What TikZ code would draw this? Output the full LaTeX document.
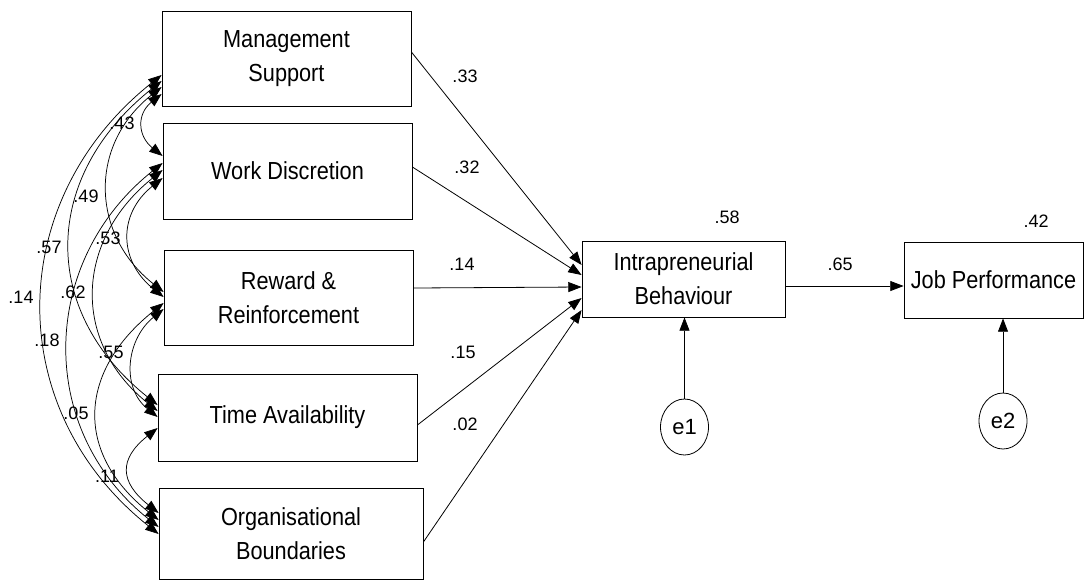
\documentclass[tikz,border=0pt]{standalone}
\usepackage{fontspec}
\setmainfont{Liberation Sans}
\newfontfamily\boxfont[FakeStretch=0.88]{Liberation Sans}
\usetikzlibrary{arrows.meta,calc,shapes.geometric}
\begin{document}
\begin{tikzpicture}[x=0.75pt,y=-0.75pt,
  var/.style={draw, line width=0.6pt, inner sep=0pt, align=center,
    font=\boxfont\fontsize{18.5}{25.5}\selectfont},
  err/.style={draw, ellipse, line width=0.6pt, inner sep=0pt,
    minimum width=36pt, minimum height=42pt, font=\fontsize{16.5}{18}\selectfont},
  arr/.style={-{Triangle[length=10pt,width=7.5pt]}, line width=0.6pt},
  corr/.style={{Triangle[length=10pt,width=7.5pt]}-{Triangle[length=10pt,width=7.5pt]}, line width=0.55pt},
  num/.style={font=\fontsize{13.5}{15}\selectfont, inner sep=0pt}
]
\useasboundingbox (0,0) rectangle (1091,583);

% boxes
\node[var, minimum width=186.75pt, minimum height=71.25pt] (ms) at (286.5,58.5) {Management\\Support};
\node[var, minimum width=186.75pt, minimum height=72pt] (wd) at (287.5,171) {Work Discretion};
\node[var, minimum width=186.75pt, minimum height=71.25pt] (re) at (288.5,297.5) {Reward \&\\Reinforcement};
\node[var, minimum width=194.25pt, minimum height=65.25pt] (ta) at (287.5,417.5) {Time Availability};
\node[var, minimum width=198pt, minimum height=68.25pt] (ob) at (291,533.5) {Organisational\\Boundaries};
\node[var, minimum width=152.25pt, minimum height=57pt] (ib) at (683.5,279) {Intrapreneurial\\Behaviour};
\node[var, minimum width=134.25pt, minimum height=57pt] (jp) at (993.5,280) {Job Performance};
\node[err] (e1) at (684.5,427) {e1};
\node[err] (e2) at (1003,421) {e2};

% structural paths
\draw[arr] ($(ms.east)+(0,-6.5)$) -- ($(ib.west)+(0,-14)$);
\draw[arr] ($(wd.east)+(0,-4)$) -- ($(ib.west)+(0,-4)$);
\draw[arr] ($(re.east)+(0,-9.5)$) -- ($(ib.west)+(0,8)$);
\draw[arr] ($(ta.east)+(0,7.5)$) -- ($(ib.west)+(0,19)$);
\draw[arr] ($(ob.east)+(0,8.5)$) -- ($(ib.west)+(0,31)$);
\draw[arr] ($(ib.east)+(0,7)$) -- ($(jp.west)+(0,6)$);
\draw[arr] (e1) -- (e1 |- ib.south);
\draw[arr] (e2) -- (e2 |- jp.south);

% path coefficients
\node[num] (l33) at (465,76) {.33};
\node[num] (l32) at (467,167) {.32};
\node[num] (l14b) at (462,264) {.14};
\node[num] (l15) at (463,352) {.15};
\node[num] (l02) at (465,424) {.02};
\node[num] (l58) at (727,217) {.58};
\node[num] (l65) at (840,264) {.65};
\node[num] (l42) at (1036,221) {.42};

% correlation end points
\coordinate (ms1) at ($(ms.west)+(0,35.5)$);
\coordinate (ms2) at ($(ms.west)+(0,28.5)$);
\coordinate (ms3) at ($(ms.west)+(0,22.5)$);
\coordinate (ms4) at ($(ms.west)+(0,16.5)$);
\coordinate (wd1) at ($(wd.west)+(0,-15)$);
\coordinate (wd2) at ($(wd.west)+(0,7)$);
\coordinate (wd3) at ($(wd.west)+(0,-1)$);
\coordinate (wd4) at ($(wd.west)+(0,-8)$);
\coordinate (re1) at ($(re.west)+(0,-5.5)$);
\coordinate (re2) at ($(re.west)+(0,-0.5)$);
\coordinate (re3) at ($(re.west)+(0,11.5)$);
\coordinate (re4) at ($(re.west)+(0,5.5)$);
\coordinate (ta1) at ($(ta.west)+(0,-12.5)$);
\coordinate (ta2) at ($(ta.west)+(0,-6.5)$);
\coordinate (ta3) at ($(ta.west)+(0,-0.5)$);
\coordinate (ta4) at ($(ta.west)+(0,10.5)$);
\coordinate (ob1) at ($(ob.west)+(0,0.5)$);
\coordinate (ob2) at ($(ob.west)+(0,-6.5)$);
\coordinate (ob3) at ($(ob.west)+(0,-13.5)$);
\coordinate (ob4) at ($(ob.west)+(0,-20.5)$);

% correlations
\draw[corr] (ms1) .. controls ($(ms1)+(-25,20)$) and ($(wd1)+(-25,-20)$) .. (wd1);
\draw[corr] (ms2) .. controls ($(ms2)+(-73,58)$) and ($(re1)+(-73,-58)$) .. (re1);
\draw[corr] (ms3) .. controls ($(ms3)+(-119,95)$) and ($(ta1)+(-119,-95)$) .. (ta1);
\draw[corr] (ms4) .. controls ($(ms4)+(-157,125)$) and ($(ob1)+(-157,-125)$) .. (ob1);
\draw[corr] (wd2) .. controls ($(wd2)+(-45,36)$) and ($(re2)+(-45,-36)$) .. (re2);
\draw[corr] (wd3) .. controls ($(wd3)+(-87,70)$) and ($(ta2)+(-87,-70)$) .. (ta2);
\draw[corr] (wd4) .. controls ($(wd4)+(-123,98)$) and ($(ob2)+(-123,-98)$) .. (ob2);
\draw[corr] (re3) .. controls ($(re3)+(-37,30)$) and ($(ta3)+(-37,-30)$) .. (ta3);
\draw[corr] (re4) .. controls ($(re4)+(-85,68)$) and ($(ob3)+(-85,-68)$) .. (ob3);
\draw[corr] (ta4) .. controls ($(ta4)+(-39,31)$) and ($(ob4)+(-39,-31)$) .. (ob4);

% correlation labels
\node[num] (c43) at (122,123) {.43};
\node[num] (c49) at (86,196) {.49};
\node[num] (c57) at (49,247) {.57};
\node[num] (c14) at (21,297) {.14};
\node[num] (c53) at (108,238) {.53};
\node[num] (c62) at (73,292) {.62};
\node[num] (c18) at (47,340) {.18};
\node[num] (c55) at (111,352) {.55};
\node[num] (c05) at (76,413) {.05};
\node[num] (c11) at (107,476) {.11};
\end{tikzpicture}
\end{document}
